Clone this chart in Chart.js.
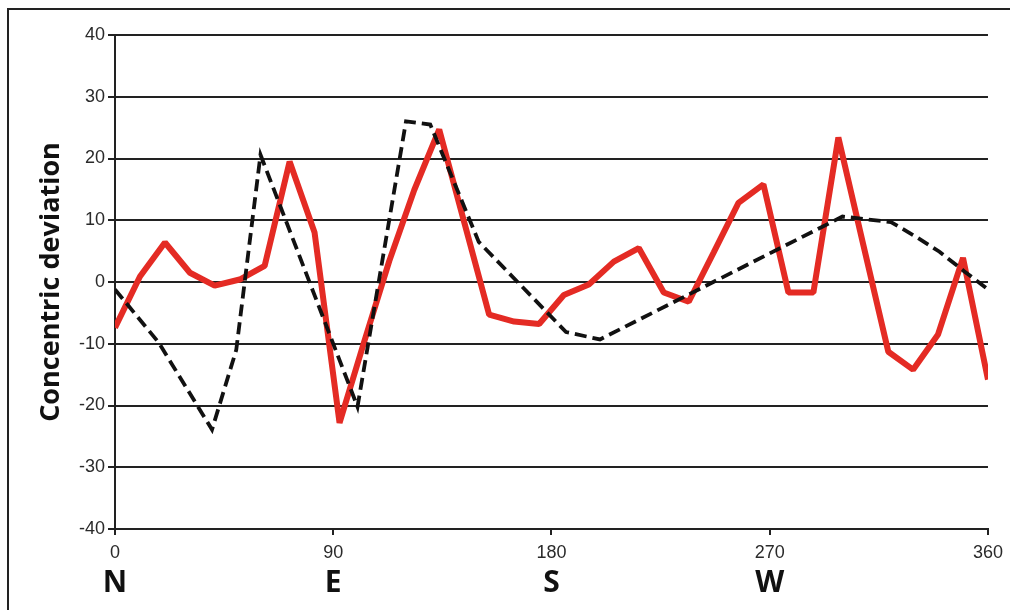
<!DOCTYPE html>
<html>
<head>
<meta charset="utf-8">
<script src="https://cdn.jsdelivr.net/npm/chart.js@4.4.1/dist/chart.umd.min.js"></script>
<style>
  html, body { margin: 0; padding: 0; background: #fff; overflow: hidden; }
  #c { display: block; }
</style>
</head>
<body>
<canvas id="c" width="1010" height="610"></canvas>
<script>
// Measured concentric deviation around the circumference (degrees)
const redAngles = [0, 10.3, 20.6, 30.9, 41.1, 51.4, 61.7, 72, 82.3, 92.6, 102.9, 113.1,
  123.4, 133.7, 144, 154.3, 164.6, 174.9, 185.1, 195.4, 205.7, 216, 226.3, 236.6,
  246.9, 257.1, 267.4, 277.7, 288, 298.3, 308.6, 318.9, 329.1, 339.4, 349.7, 360];
const redValues = [-7.4, 0.9, 6.4, 1.5, -0.6, 0.4, 2.6, 19.5, 8.0, -22.8, -9.5, 3.4,
  14.9, 24.7, 9.7, -5.3, -6.4, -6.8, -2.1, -0.4, 3.3, 5.5, -1.7, -3.2,
  4.8, 12.8, 15.8, -1.7, -1.7, 23.4, 6.0, -11.3, -14.2, -8.5, 3.9, -15.8];

// Reference profile (dashed)
const blackAngles = [0, 18, 40, 50, 60, 100, 120, 130, 150, 186, 200, 300, 320, 330, 340, 350, 360];
const blackValues = [-1.2, -9.8, -23.9, -11.0, 20.6, -20.2, 26.0, 25.5, 6.5, -8.1, -9.3, 10.6, 9.7, 7.4, 4.9, 1.8, -1.2];

// Axis ticks
const angleTicks = [0, 90, 180, 270, 360];
const compassLabels = ['N', 'E', 'S', 'W', ''];

const toPoints = (xs, ys) => xs.map((x, i) => ({ x: x, y: ys[i] }));

const tickFont = { family: '"Liberation Sans", Arial, sans-serif', size: 18 };
const ink = '#222';

// Open frame: a rule along the top and the left side of the figure
const framePlugin = {
  id: 'frame',
  beforeDraw(chart) {
    const ctx = chart.ctx;
    ctx.save();
    ctx.fillStyle = ink;
    ctx.fillRect(7, 8, chart.width - 7, 2);
    ctx.fillRect(7, 8, 2, chart.height - 8);
    ctx.restore();
  }
};

new Chart(document.getElementById('c'), {
  type: 'line',
  plugins: [framePlugin],
  data: {
    datasets: [
      {
        label: 'profile',
        data: toPoints(blackAngles, blackValues),
        borderColor: '#111',
        borderWidth: 3.8,
        borderDash: [12, 6],
        pointRadius: 0,
        tension: 0,
        fill: false,
        order: 0
      },
      {
        label: 'measured',
        data: toPoints(redAngles, redValues),
        borderColor: '#e42b24',
        borderWidth: 6,
        borderJoinStyle: 'bevel',
        pointRadius: 0,
        tension: 0,
        fill: false,
        order: 1
      }
    ]
  },
  options: {
    responsive: false,
    animation: false,
    layout: { padding: { left: 0, top: 35, right: 22, bottom: 6 } },
    plugins: { legend: { display: false }, tooltip: { enabled: false } },
    scales: {
      x: {
        type: 'linear', position: 'bottom', min: 0, max: 360, weight: 0,
        afterFit(s) { s.height = 30; },
        afterBuildTicks(s) { s.ticks = angleTicks.map(v => ({ value: v })); },
        ticks: { color: '#2a2a2a', font: tickFont, padding: 7, maxRotation: 0, autoSkip: false },
        grid: { drawOnChartArea: false, drawTicks: true, tickLength: 6, color: ink, lineWidth: 2 },
        border: { display: true, color: ink, width: 2 }
      },
      compass: {
        type: 'linear', position: 'bottom', min: 0, max: 360, weight: 1,
        afterFit(s) { s.height = 45; },
        afterBuildTicks(s) { s.ticks = angleTicks.map(v => ({ value: v })); },
        ticks: {
          color: '#111', padding: 6, maxRotation: 0, autoSkip: false,
          font: { family: '"Open Sans", "Noto Sans", sans-serif', size: 30, weight: 'bold' },
          callback: (v) => compassLabels[angleTicks.indexOf(v)]
        },
        grid: { display: false, drawTicks: false },
        border: { display: false }
      },
      y: {
        type: 'linear', min: -40, max: 40,
        afterFit(s) { s.width = 115; },
        ticks: { stepSize: 10, color: '#2a2a2a', font: tickFont, padding: 3 },
        grid: { color: ink, lineWidth: 2, tickLength: 7 },
        border: { color: ink, width: 2 },
        title: {
          display: true, text: 'Concentric deviation', color: '#111',
          font: { family: '"Open Sans", "Noto Sans", sans-serif', size: 27, weight: 'bold' },
          padding: { top: 35, bottom: 0 }
        }
      }
    }
  }
});
</script>
</body>
</html>
